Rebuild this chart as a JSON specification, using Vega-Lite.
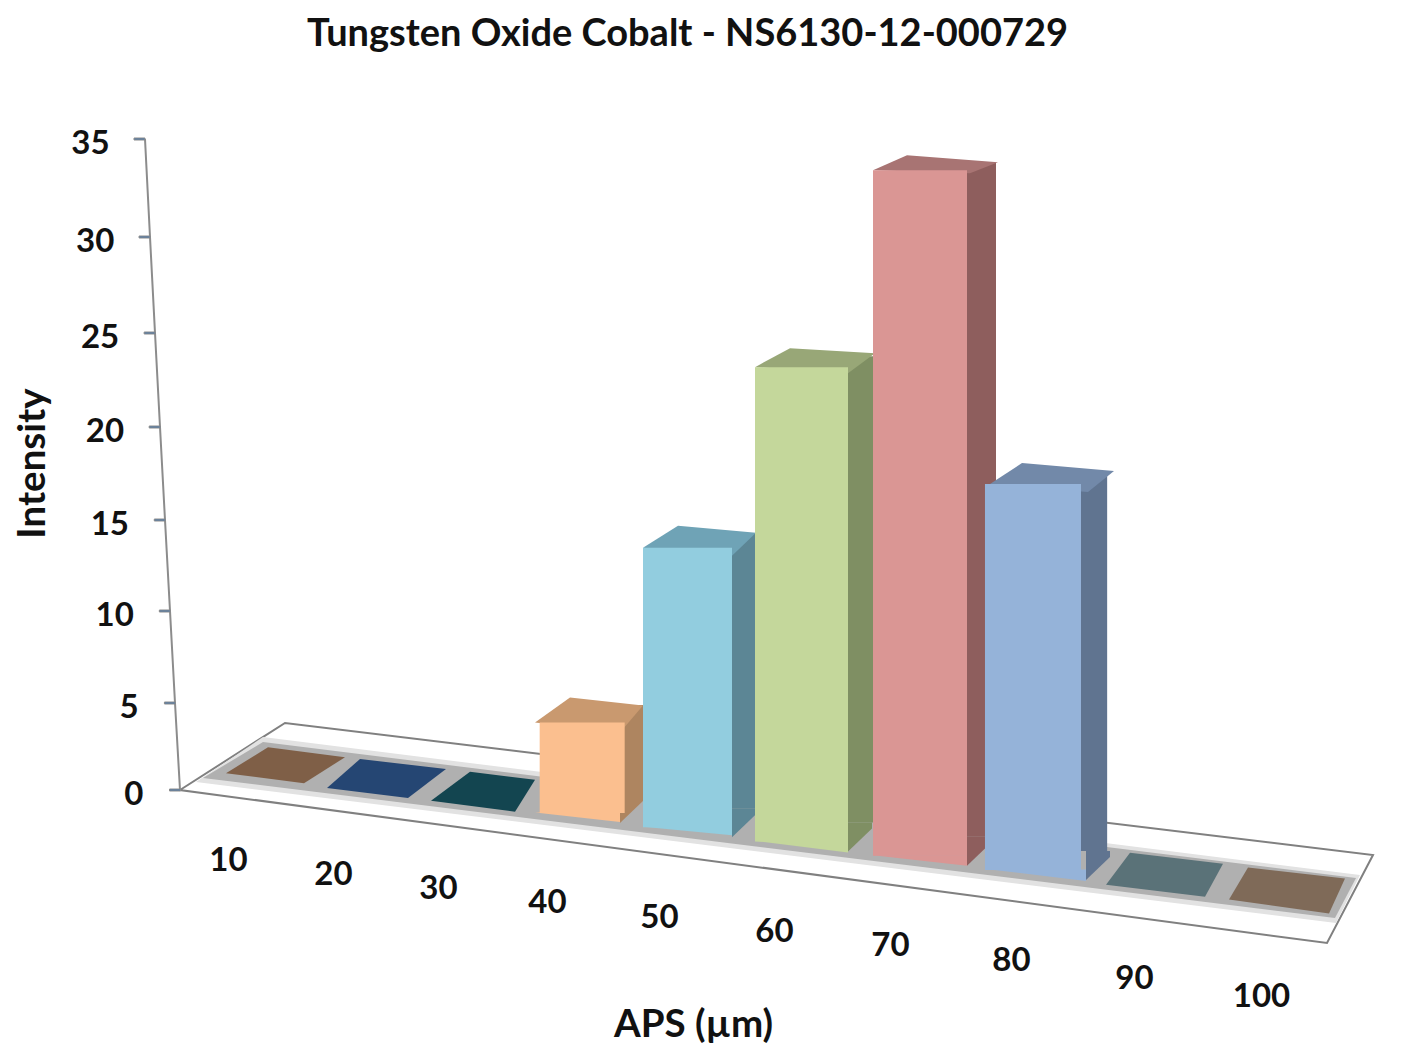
{"$schema":"https://vega.github.io/schema/vega-lite/v6.json","description":"Tungsten Oxide Cobalt particle size distribution, drawn as a 3D-look column chart.","width":1233,"height":800,"padding":{"left":180,"top":60,"right":0,"bottom":193},"autosize":{"type":"none"},"background":"white","view":{"stroke":null},"title":{"text":"Tungsten Oxide Cobalt - NS6130-12-000729","font":"Lato","fontSize":38,"fontWeight":"bold","color":"#111111","anchor":"middle","dx":-109,"offset":6},"datasets":{"bars":[{"aps":10,"intensity":0},{"aps":20,"intensity":0},{"aps":30,"intensity":0},{"aps":40,"intensity":4.5},{"aps":50,"intensity":13.9},{"aps":60,"intensity":23.6},{"aps":70,"intensity":34.1},{"aps":80,"intensity":19.2},{"aps":90,"intensity":0},{"aps":100,"intensity":0}],"ticks":[{"tick":0},{"tick":5},{"tick":10},{"tick":15},{"tick":20},{"tick":25},{"tick":30},{"tick":35}]},"data":{"name":"bars"},"resolve":{"scale":{"x":"independent","y":"independent","color":"independent","shape":"independent"},"axis":{"x":"independent","y":"independent"}},"layer":[
{"transform":[{"filter":"datum.aps==10"}],"mark":{"type":"point","filled":true,"fill":"white","stroke":"#808080","strokeWidth":2,"opacity":1,"size":4,"shape":"M-48 0L57 -67L1145 65L1099 153Z"},"encoding":{"x":{"field":"aps","type":"quantitative","scale":{"domain":[10,20,30,40,50,60,70,80,90,100],"range":[48,153,258,367,479,594,710,831,954,1081],"nice":false,"zero":false},"axis":{"orient":"bottom","values":[10,20,30,40,50,60,70,80,90,100],"domain":false,"ticks":false,"grid":false,"labelFont":"Lato","labelFontSize":33,"labelFontWeight":"bold","labelColor":"#111111","labelBaseline":"middle","labelAlign":"center","labelFlush":false,"labelOverlap":false,"labelPadding":{"expr":"(datum.value-10)*1.43+(datum.value>80?(datum.value-80)*0.4:0)"},"title":"APS (µm)","titleFont":"Lato","titleFontSize":38.5,"titleFontWeight":"bold","titleColor":"#111111","titleX":513,"titleY":164,"titleBaseline":"middle","titleAlign":"center"}},"y":{"field":"intensity","type":"quantitative","scale":{"domain":[0,35],"range":[730,80],"nice":false},"axis":null}}},
{"transform":[{"filter":"datum.aps==10"}],"mark":{"type":"point","filled":true,"fill":"#e2e2e2","opacity":1,"size":4,"shape":"M35 -53L1132 85L1108 133L-32 -8Z"},"encoding":{"x":{"field":"aps","type":"quantitative","scale":{"domain":[10,100],"range":[48,1081],"zero":false,"nice":false},"axis":null},"y":{"field":"intensity","type":"quantitative","scale":{"domain":[0,35],"range":[730,80],"nice":false},"axis":null}}},
{"transform":[{"filter":"datum.aps==10"}],"mark":{"type":"point","filled":true,"fill":"#b0b0b0","opacity":1,"size":4,"shape":"M35 -48L1128 88L1107 128L-25 -12Z"},"encoding":{"x":{"field":"aps","type":"quantitative","scale":{"domain":[10,100],"range":[48,1081],"zero":false,"nice":false},"axis":null},"y":{"field":"intensity","type":"quantitative","scale":{"domain":[0,35],"range":[730,80],"nice":false},"axis":null}}},
{"data":{"name":"ticks"},"mark":{"type":"line","stroke":"#8c8c8c","strokeWidth":2},"encoding":{"x":{"field":"tick","type":"quantitative","scale":{"domain":[0,35],"range":[0,-35],"nice":false},"axis":null},"y":{"field":"tick","type":"quantitative","scale":{"domain":[0,5,10,15,20,25,30,35],"range":[730,643,551,460,367,273,177,79],"nice":false},"axis":{"orient":"left","values":[0,5,10,15,20,25,30,35],"domain":false,"ticks":false,"grid":false,"labelFont":"Lato","labelFontSize":33,"labelFontWeight":"bold","labelColor":"#111111","labelPadding":{"expr":"37+datum.value*0.97"},"labelOffset":4,"title":"Intensity","titleFont":"Lato","titleFontSize":38.5,"titleFontWeight":"bold","titleColor":"#111111","titleX":-148,"titleY":403,"titleBaseline":"middle"}}}},
{"data":{"name":"ticks"},"mark":{"type":"tick","orient":"horizontal","stroke":"#8c8c8c","thickness":2,"opacity":1},"encoding":{"x":{"field":"tick","type":"quantitative","scale":{"domain":[0,35],"range":[-5,-40.5],"nice":false},"axis":null},"y":{"field":"tick","type":"quantitative","scale":{"domain":[0,5,10,15,20,25,30,35],"range":[730,643,551,460,367,273,177,79],"nice":false},"axis":null},"size":{"value":11}}},
{"transform":[{"filter":"datum.aps==40"}],"mark":{"type":"bar","orient":"vertical","color":"#ae8560","size":40},"encoding":{"x":{"field":"aps","type":"quantitative","scale":{"domain":[40,50,60,70,80],"range":[443,555,673,796,912],"zero":false,"nice":false},"axis":null},"y":{"field":"intensity","type":"quantitative","stack":null,"scale":{"domain":[0,35],"range":[734,42.4],"nice":false},"axis":null}}},
{"transform":[{"filter":"datum.aps==50"}],"mark":{"type":"bar","orient":"vertical","color":"#5c8695","size":40},"encoding":{"x":{"field":"aps","type":"quantitative","scale":{"domain":[40,50,60,70,80],"range":[443,555,673,796,912],"zero":false,"nice":false},"axis":null},"y":{"field":"intensity","type":"quantitative","stack":null,"scale":{"domain":[0,35],"range":[748.25,56.65],"nice":false},"axis":null}}},
{"transform":[{"filter":"datum.aps==60"}],"mark":{"type":"bar","orient":"vertical","color":"#7f8f63","size":40},"encoding":{"x":{"field":"aps","type":"quantitative","scale":{"domain":[40,50,60,70,80],"range":[443,555,673,796,912],"zero":false,"nice":false},"axis":null},"y":{"field":"intensity","type":"quantitative","stack":null,"scale":{"domain":[0,35],"range":[762.5,70.9],"nice":false},"axis":null}}},
{"transform":[{"filter":"datum.aps==70"}],"mark":{"type":"bar","orient":"vertical","color":"#8e5e5d","size":40},"encoding":{"x":{"field":"aps","type":"quantitative","scale":{"domain":[40,50,60,70,80],"range":[443,555,673,796,912],"zero":false,"nice":false},"axis":null},"y":{"field":"intensity","type":"quantitative","stack":null,"scale":{"domain":[0,35],"range":[776.75,85.15],"nice":false},"axis":null}}},
{"transform":[{"filter":"datum.aps==80"}],"mark":{"type":"bar","orient":"vertical","color":"#607490","size":40},"encoding":{"x":{"field":"aps","type":"quantitative","scale":{"domain":[40,50,60,70,80],"range":[443,555,673,796,912],"zero":false,"nice":false},"axis":null},"y":{"field":"intensity","type":"quantitative","stack":null,"scale":{"domain":[0,35],"range":[791,99.4],"nice":false},"axis":null}}},
{"transform":[{"filter":"datum.intensity>0"}],"mark":{"type":"point","filled":true,"opacity":1,"size":4,"shape":"M0 10L24 -13L24 -19L0 -19Z"},"encoding":{"x":{"field":"aps","type":"quantitative","scale":{"domain":[40,50,60,70,80],"range":[440,552,668,787,906],"zero":false,"nice":false},"axis":null},"y":{"field":"aps","type":"ordinal","scale":{"type":"point","domain":[10,20,30,40,50,60,70,80,90,100],"range":[710.25,838.5],"padding":0},"axis":null},"color":{"field":"aps","type":"nominal","scale":{"domain":[40,50,60,70,80],"range":["#ae8560","#5c8695","#7f8f63","#8e5e5d","#607490"]},"legend":null}}},
{"mark":{"type":"point","filled":true,"opacity":1,"size":4},"encoding":{"x":{"field":"aps","type":"quantitative","scale":{"domain":[10,20,30,40,50,60,70,80,90,100],"range":[85,188,293,397.5,507.5,621.5,740,858,975,1099],"zero":false,"nice":false},"axis":null},"y":{"field":"aps","type":"ordinal","scale":{"type":"point","domain":[10,20,30,40,50,60,70,80,90,100],"range":[710.25,838.5],"padding":0},"axis":null},"yOffset":{"field":"intensity","type":"quantitative","scale":{"domain":[0,35],"range":[0,-703.5],"nice":false}},"shape":{"field":"aps","type":"nominal","scale":{"domain":[10,20,30,40,50,60,70,80,90,100],"range":["M-39 3L39 13L80 -13L3 -23Z","M-41 3.5L40 13.5L78 -15.5L-8 -25.5Z","M-42 2L42 13L62 -19L-3 -27Z","M-42.5 0L42.5 10L65.5 -17L-7.5 -25Z","M-44.5 0L44.5 8L68.5 -15L-9.5 -22Z","M-46.5 0L46.5 6L73.5 -14L-11.5 -19Z","M-47 0L50 3L78 -8L-13 -15Z","M-48 0L50 8L76 -13L-16 -21Z","M-49 0.5L50 12.5L68 -20.5L-25 -31.5Z","M-50 1L50 15L66 -20L-31 -31Z"]},"legend":null},"color":{"field":"aps","type":"nominal","scale":{"domain":[10,20,30,40,50,60,70,80,90,100],"range":["#7f5f47","#254673","#134550","#c9996f","#6fa3b6","#98a777","#a87473","#7289a9","#5a7278","#7f6a58"]},"legend":null}}},
{"transform":[{"filter":"datum.aps==40"}],"mark":{"type":"bar","orient":"vertical","color":"#fbbf8f","size":85},"encoding":{"x":{"field":"aps","type":"quantitative","scale":{"domain":[40,50,60,70,80],"range":[397.5,507.5,621.5,740,858],"zero":false,"nice":false},"axis":null},"y":{"field":"intensity","type":"quantitative","stack":null,"scale":{"domain":[0,35],"range":[753,49.5],"nice":false},"axis":null}}},
{"transform":[{"filter":"datum.aps==50"}],"mark":{"type":"bar","orient":"vertical","color":"#92cddf","size":89},"encoding":{"x":{"field":"aps","type":"quantitative","scale":{"domain":[40,50,60,70,80],"range":[397.5,507.5,621.5,740,858],"zero":false,"nice":false},"axis":null},"y":{"field":"intensity","type":"quantitative","stack":null,"scale":{"domain":[0,35],"range":[767.25,63.75],"nice":false},"axis":null}}},
{"transform":[{"filter":"datum.aps==60"}],"mark":{"type":"bar","orient":"vertical","color":"#c4d79b","size":93},"encoding":{"x":{"field":"aps","type":"quantitative","scale":{"domain":[40,50,60,70,80],"range":[397.5,507.5,621.5,740,858],"zero":false,"nice":false},"axis":null},"y":{"field":"intensity","type":"quantitative","stack":null,"scale":{"domain":[0,35],"range":[781.5,78],"nice":false},"axis":null}}},
{"transform":[{"filter":"datum.aps==70"}],"mark":{"type":"bar","orient":"vertical","color":"#da9694","size":94},"encoding":{"x":{"field":"aps","type":"quantitative","scale":{"domain":[40,50,60,70,80],"range":[397.5,507.5,621.5,740,858],"zero":false,"nice":false},"axis":null},"y":{"field":"intensity","type":"quantitative","stack":null,"scale":{"domain":[0,35],"range":[795.75,92.25],"nice":false},"axis":null}}},
{"transform":[{"filter":"datum.aps==80"}],"mark":{"type":"bar","orient":"vertical","color":"#95b3d9","size":96},"encoding":{"x":{"field":"aps","type":"quantitative","scale":{"domain":[40,50,60,70,80],"range":[397.5,507.5,621.5,740,858],"zero":false,"nice":false},"axis":null},"y":{"field":"intensity","type":"quantitative","stack":null,"scale":{"domain":[0,35],"range":[810,106.5],"nice":false},"axis":null}}},
{"transform":[{"filter":"datum.intensity>0"}],"mark":{"type":"point","filled":true,"opacity":1,"size":4},"encoding":{"x":{"field":"aps","type":"quantitative","scale":{"domain":[40,50,60,70,80],"range":[397.5,507.5,621.5,740,858],"zero":false,"nice":false},"axis":null},"y":{"field":"aps","type":"ordinal","scale":{"type":"point","domain":[10,20,30,40,50,60,70,80,90,100],"range":[710.25,838.5],"padding":0},"axis":null},"shape":{"field":"aps","type":"nominal","scale":{"domain":[40,50,60,70,80],"range":["M-42.5 -0.5L42.5 -0.5L42.5 9Z","M-44.5 -0.5L44.5 -0.5L44.5 8Z","M-46.5 -0.5L46.5 -0.5L46.5 11Z","M-47 -0.5L47 -0.5L47 10Z","M-48 -0.5L48 -0.5L48 11Z"]},"legend":null},"color":{"field":"aps","type":"nominal","scale":{"domain":[40,50,60,70,80],"range":["#fbbf8f","#92cddf","#c4d79b","#da9694","#95b3d9"]},"legend":null}}}
]}
